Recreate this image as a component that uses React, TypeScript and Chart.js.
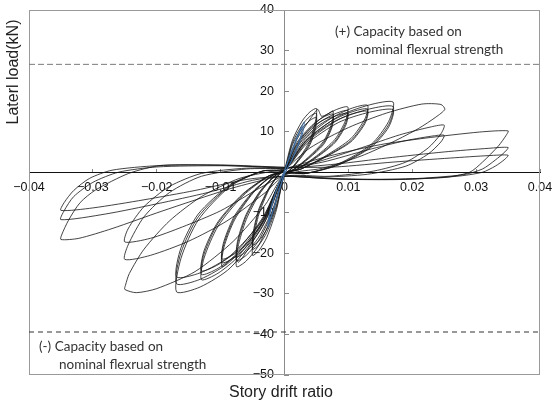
import React, { useEffect, useRef } from "react";
import { Chart, registerables } from "chart.js";

Chart.register(...registerables);

// Axis ticks and their printed labels
const xTickValues = [-0.04, -0.03, -0.02, -0.01, 0, 0.01, 0.02, 0.03, 0.04];
const xTickLabels = ["\u22120.04", "\u22120.03", "\u22120.02", "\u22120.01", "0", "0.01", "0.02", "0.03", "0.04"];
const yTickValues = [-50, -40, -30, -20, -10, 0, 10, 20, 30, 40];
const yTickLabels = ["\u221250", "\u221240", "\u221230", "\u221220", "\u221210", "", "10", "20", "30", "40"];

// Nominal flexural capacity levels (kN)
const capacityPositive = 26.6;
const capacityNegative = -39.4;

// Measured load–drift history, grouped by target drift level: [drift ratio, load kN]
const elasticCycles: number[][] = [
  [0, 0.3], [0.0008, 4], [0.0018, 8], [0.0026, 11], [0.0031, 12.4], [0.0029, 10], [0.002, 6], [0.001, 2.5], [0, -0.5],
  [-0.0007, -4], [-0.0015, -8], [-0.0022, -11.5], [-0.0026, -13.5], [-0.0024, -10.5], [-0.0016, -6], [-0.0008, -2.5], [0, 0.4],
  [0.0008, 3.6], [0.0017, 7.2], [0.0024, 10], [0.0028, 11.3], [0.0026, 9.2], [0.0018, 5.5], [0.0009, 2.2], [0, -0.4],
  [-0.0007, -3.7], [-0.0014, -7.4], [-0.002, -10.6], [-0.0024, -12.3], [-0.0022, -9.6], [-0.0015, -5.5], [-0.0007, -2.2], [0, 0.3],
];

const drift005: number[][] = [
  [0, 0.5],
  [0.00125, 7.9], [0.00275, 12.6], [0.004, 14.9], [0.005, 15.7], [0.00485, 12.6], [0.004, 7.9], [0.0025, 3.9], [0.001, 0.8], [0, -0.5],
  [-0.00125, -9.2], [-0.00275, -16], [-0.004, -19.3], [-0.005, -20.5], [-0.00485, -16.4], [-0.004, -10.3], [-0.0025, -4.5], [-0.001, -0.8], [0, 0.5],
  [0.00125, 7.3], [0.00275, 11.6], [0.004, 13.8], [0.005, 14.5], [0.00485, 11.6], [0.004, 7.3], [0.0025, 3.6], [0.001, 0.7], [0, -0.5],
  [-0.00125, -8.6], [-0.00275, -14.8], [-0.004, -17.9], [-0.005, -19], [-0.00485, -15.2], [-0.004, -9.5], [-0.0025, -4.2], [-0.001, -0.8], [0, 0.5],
  [0.00125, 6.8], [0.00275, 10.8], [0.004, 12.8], [0.005, 13.5], [0.00485, 10.8], [0.004, 6.8], [0.0025, 3.4], [0.001, 0.7], [0, -0.5],
  [-0.00125, -8.1], [-0.00275, -14], [-0.004, -16.9], [-0.005, -18], [-0.00485, -14.4], [-0.004, -9], [-0.0025, -4], [-0.001, -0.7], [0, 0.5],
];

const drift0075: number[][] = [
  [0, 0.5],
  [0.0019, 8], [0.0042, 13.5], [0.0052, 15.5], [0.0058, 13.8], [0.0068, 14.4], [0.0076, 15.1], [0.0074, 12.1], [0.0061, 7.6], [0.0038, 3.8], [0.0015, 0.8], [0, -0.5],
  [-0.0019, -10.5], [-0.0041, -18.2], [-0.006, -21.9], [-0.0075, -23.3], [-0.0073, -18.6], [-0.006, -11.7], [-0.0038, -5.1], [-0.0015, -0.9], [0, 0.5],
  [0.0019, 7.2], [0.0042, 11.4], [0.0061, 13.6], [0.0076, 14.3], [0.0074, 11.4], [0.0061, 7.2], [0.0038, 3.6], [0.0015, 0.7], [0, -0.5],
  [-0.0019, -9.8], [-0.0041, -17], [-0.006, -20.5], [-0.0075, -21.8], [-0.0073, -17.4], [-0.006, -10.9], [-0.0038, -4.8], [-0.0015, -0.9], [0, 0.5],
  [0.0019, 6.8], [0.0042, 10.9], [0.0061, 12.9], [0.0076, 13.6], [0.0074, 10.9], [0.0061, 6.8], [0.0038, 3.4], [0.0015, 0.7], [0, -0.5],
  [-0.0019, -9.4], [-0.0041, -16.2], [-0.006, -19.6], [-0.0075, -20.8], [-0.0073, -16.6], [-0.006, -10.4], [-0.0038, -4.6], [-0.0015, -0.8], [0, 0.5],
];

const drift010: number[][] = [
  [0, 0.5],
  [0.0025, 8.1], [0.0054, 12.9], [0.0079, 15.3], [0.0099, 16.1], [0.0096, 12.9], [0.0079, 8.1], [0.005, 4], [0.002, 0.8], [0, -0.5],
  [-0.0025, -10.5], [-0.0054, -18.2], [-0.0072, -22.2], [-0.0077, -20.8], [-0.0086, -21.8], [-0.0098, -23.3], [-0.0095, -18.6], [-0.0078, -11.7], [-0.0049, -5.1], [-0.002, -0.9], [0, 0.5],
  [0.0025, 7.6], [0.0054, 12.2], [0.0079, 14.4], [0.0099, 15.2], [0.0096, 12.2], [0.0079, 7.6], [0.005, 3.8], [0.002, 0.8], [0, -0.5],
  [-0.0025, -10], [-0.0054, -17.4], [-0.0078, -21], [-0.0098, -22.3], [-0.0095, -17.8], [-0.0078, -11.2], [-0.0049, -4.9], [-0.002, -0.9], [0, 0.5],
  [0.0025, 7.3], [0.0054, 11.6], [0.0079, 13.8], [0.0099, 14.5], [0.0096, 11.6], [0.0079, 7.3], [0.005, 3.6], [0.002, 0.7], [0, -0.5],
  [-0.0025, -9.6], [-0.0054, -16.7], [-0.0078, -20.1], [-0.0098, -21.4], [-0.0095, -17.1], [-0.0078, -10.7], [-0.0049, -4.7], [-0.002, -0.9], [0, 0.5],
];

const drift0125: number[][] = [
  [0, 0.5],
  [0.0033, 8.3], [0.0072, 13.2], [0.0104, 15.7], [0.013, 16.5], [0.0126, 13.2], [0.0104, 8.3], [0.0065, 4.1], [0.0026, 0.8], [0, -0.5],
  [-0.0033, -11.9], [-0.0072, -20.7], [-0.0104, -24.9], [-0.013, -26.5], [-0.0126, -21.2], [-0.0104, -13.3], [-0.0065, -5.8], [-0.0026, -1.1], [0, 0.5],
  [0.0033, 7.8], [0.0072, 12.5], [0.0104, 14.8], [0.013, 15.6], [0.0126, 12.5], [0.0104, 7.8], [0.0065, 3.9], [0.0026, 0.8], [0, -0.5],
  [-0.0033, -11.3], [-0.0072, -19.7], [-0.0104, -23.7], [-0.013, -25.2], [-0.0126, -20.2], [-0.0104, -12.6], [-0.0065, -5.5], [-0.0026, -1], [0, 0.5],
  [0.0033, 7.5], [0.0072, 12], [0.0104, 14.3], [0.013, 15], [0.0126, 12], [0.0104, 7.5], [0.0065, 3.8], [0.0026, 0.8], [0, -0.5],
  [-0.0033, -10.9], [-0.0072, -19], [-0.0104, -22.8], [-0.013, -24.3], [-0.0126, -19.4], [-0.0104, -12.2], [-0.0065, -5.3], [-0.0026, -1], [0, 0.5],
];

const drift017: number[][] = [
  [0, 0.5],
  [0.0034, 7.8], [0.0085, 13.8], [0.0133, 16.6], [0.017, 17.3], [0.0163, 12.5], [0.0136, 6.9], [0.0085, 2.1], [0.0034, -0.3], [0, -0.6],
  [-0.0034, -13.3], [-0.0085, -23.6], [-0.0132, -28.3], [-0.0169, -29.5], [-0.0162, -21.2], [-0.0135, -11.8], [-0.0085, -3.5], [-0.0034, 0.3], [0, 0.6],
  [0.0034, 7.3], [0.0085, 13], [0.0133, 15.6], [0.017, 16.2], [0.0163, 11.7], [0.0136, 6.5], [0.0085, 1.9], [0.0034, -0.3], [0, -0.6],
  [-0.0034, -12.4], [-0.0085, -22], [-0.0132, -26.4], [-0.0169, -27.5], [-0.0162, -19.8], [-0.0135, -11], [-0.0085, -3.3], [-0.0034, 0.3], [0, 0.6],
  [0.0034, 6.9], [0.0085, 12.3], [0.0133, 14.8], [0.017, 15.4], [0.0163, 11.1], [0.0136, 6.2], [0.0085, 1.8], [0.0034, -0.3], [0, -0.6],
  [-0.0034, -11.6], [-0.0085, -20.6], [-0.0132, -24.8], [-0.0169, -25.8], [-0.0162, -18.6], [-0.0135, -10.3], [-0.0085, -3.1], [-0.0034, 0.3], [0, 0.6],
];

const drift025: number[][] = [
  [0, 0.5], [0.004, 6], [0.01, 11], [0.016, 14.6], [0.0215, 16.8], [0.0245, 16.7], [0.0251, 15.5], [0.0237, 13.6], [0.021, 10.8], [0.017, 7.5], [0.012, 4], [0.006, 1], [0, -0.8],
  [-0.003, -8], [-0.008, -17], [-0.014, -24.5], [-0.02, -28.7], [-0.0232, -29.7], [-0.025, -28.9], [-0.0249, -27.9], [-0.0243, -25], [-0.022, -19], [-0.018, -12], [-0.013, -6], [-0.007, -1.5], [0, 0.8],
  [0.005, 2.5], [0.012, 6], [0.018, 9.2], [0.023, 11.2], [0.025, 11.6], [0.0245, 9.5], [0.0225, 6], [0.019, 2.5], [0.014, 0.3], [0.007, -1], [0, -1],
  [-0.003, -5], [-0.009, -12], [-0.015, -17], [-0.021, -20.5], [-0.025, -21.5], [-0.0245, -18], [-0.022, -11], [-0.018, -5], [-0.013, -1], [-0.006, 0.8], [0, 1],
  [0.006, 2.5], [0.013, 5.5], [0.019, 7.8], [0.0235, 9], [0.025, 9.1], [0.0245, 7.5], [0.0225, 4.5], [0.019, 1.5], [0.013, -0.5], [0.006, -1.2], [0, -1],
  [-0.004, -4], [-0.01, -9.5], [-0.016, -13.5], [-0.021, -16.3], [-0.025, -17.2], [-0.0245, -14], [-0.022, -8.5], [-0.018, -3.5], [-0.013, -0.3], [-0.006, 1], [0, 1],
];

const drift035: number[][] = [
  [0, 0.8], [0.007, 4], [0.015, 6.8], [0.022, 8.4], [0.0305, 9.9], [0.035, 10.2], [0.0347, 9.1], [0.0335, 6.5], [0.031, 2.5], [0.029, 0], [0.025, -1.3], [0.015, -1.8], [0.006, -1.5], [0, -1],
  [-0.003, -1.8], [-0.0088, -4.2], [-0.0192, -9.6], [-0.027, -13.9], [-0.0322, -16.3], [-0.035, -16.6], [-0.0349, -15.5], [-0.0338, -11.8], [-0.032, -7.5], [-0.0296, -4.4], [-0.0244, -0.3], [-0.0192, 1.7], [-0.01, 1.7], [-0.0036, 1.3], [0, 1],
  [0.008, 2], [0.016, 3.5], [0.025, 5], [0.032, 5.9], [0.035, 6.1], [0.0345, 5], [0.033, 3], [0.031, 0.8], [0.028, -0.6], [0.02, -1.6], [0.01, -1.7], [0, -1],
  [-0.005, -2], [-0.012, -5], [-0.02, -7.8], [-0.028, -10.3], [-0.035, -11.7], [-0.0345, -9.5], [-0.033, -6], [-0.03, -2.5], [-0.026, 0], [-0.02, 1.3], [-0.01, 1.6], [0, 1.2],
  [0.008, 1.3], [0.017, 2.5], [0.026, 3.5], [0.032, 4.1], [0.035, 4.2], [0.0345, 3.2], [0.033, 1.5], [0.031, 0], [0.027, -1], [0.018, -1.8], [0.008, -1.7], [0, -1],
  [-0.006, -1.8], [-0.014, -4.5], [-0.022, -6.8], [-0.03, -8.8], [-0.035, -9.4], [-0.0345, -7.5], [-0.033, -4.5], [-0.0305, -1.5], [-0.027, 0.5], [-0.02, 1.6], [-0.01, 1.8], [0, 1.2],
];

const inelasticGroups = [drift005, drift0075, drift010, drift0125, drift017, drift025, drift035];

const toPoints = (rows: number[][]) => rows.map(([x, y]) => ({ x, y }));

const TICK_FONT = '"Liberation Sans", Arial, sans-serif';
const NOTE_FONT = 'Lato, "Liberation Sans", sans-serif';

// Axes sit inside the plotting area, so they should claim no layout room
const claimNoSpace = (scale: any) => {
  if (scale.isHorizontal()) scale.height = 0;
  else scale.width = 0;
  scale.paddingTop = 0;
  scale.paddingBottom = 0;
  scale.paddingLeft = 0;
  scale.paddingRight = 0;
};

// Frame around the plotting area
const frameBox = {
  id: "frameBox",
  beforeDatasetsDraw(chart: any) {
    const { ctx, chartArea: a } = chart;
    ctx.save();
    ctx.strokeStyle = "#9a9a9a";
    ctx.lineWidth = 1;
    ctx.strokeRect(a.left + 0.5, a.top + 0.5, a.right - a.left - 1, a.bottom - a.top - 1);
    ctx.restore();
  },
};

// Axis titles and capacity notes
const textLayer = {
  id: "textLayer",
  afterDraw(chart: any) {
    const { ctx, chartArea: a } = chart;
    ctx.save();
    ctx.fillStyle = "#222";
    ctx.font = `16px ${TICK_FONT}`;
    ctx.textAlign = "center";
    ctx.textBaseline = "middle";
    ctx.fillText("Story drift ratio", 281, 393);
    ctx.translate(14, 72);
    ctx.rotate(-Math.PI / 2);
    ctx.fillText("Laterl load(kN)", 0, 0);
    ctx.restore();

    ctx.save();
    ctx.fillStyle = "#333";
    ctx.font = `13.5px ${NOTE_FONT}`;
    ctx.textAlign = "left";
    ctx.textBaseline = "middle";
    ctx.fillText("(+) Capacity based on", a.left + 306, a.top + 22);
    ctx.fillText("nominal flexrual strength", a.left + 327, a.top + 40);
    ctx.fillText("(-) Capacity based on", a.left + 10, a.top + 337);
    ctx.fillText("nominal flexrual strength", a.left + 30, a.top + 355);
    ctx.restore();
  },
};

export default function App() {
  const canvasRef = useRef<HTMLCanvasElement | null>(null);

  useEffect(() => {
    if (!canvasRef.current) return;

    const loopSets = inelasticGroups.map((rows) => ({
      data: toPoints(rows),
      borderColor: "#141414",
      borderWidth: 0.8,
      tension: 0.25,
    }));

    const chart = new Chart(canvasRef.current, {
      type: "scatter",
      data: {
        datasets: [
          {
            data: toPoints(elasticCycles),
            borderColor: "#3c6a9e",
            borderWidth: 1,
            tension: 0.25,
          },
          ...loopSets,
          {
            data: [
              { x: xTickValues[0], y: capacityPositive },
              { x: xTickValues[xTickValues.length - 1], y: capacityPositive },
            ],
            borderColor: "#7a7a7a",
            borderWidth: 1,
            borderDash: [6, 3],
          },
          {
            data: [
              { x: xTickValues[0], y: capacityNegative },
              { x: xTickValues[xTickValues.length - 1], y: capacityNegative },
            ],
            borderColor: "#333",
            borderWidth: 1,
            borderDash: [5, 4],
          },
        ] as any,
      },
      options: {
        animation: false,
        responsive: false,
        events: [],
        layout: { padding: { left: 29, right: 12, top: 10, bottom: 32 } },
        datasets: {
          scatter: { showLine: true, pointRadius: 0, fill: false },
        } as any,
        plugins: {
          legend: { display: false },
          tooltip: { enabled: false },
        },
        scales: {
          x: {
            type: "linear",
            min: xTickValues[0],
            max: xTickValues[xTickValues.length - 1],
            position: { y: 0 } as any,
            afterBuildTicks: (scale: any) => {
              scale.ticks = xTickValues.map((value) => ({ value }));
            },
            afterFit: claimNoSpace,
            grid: {
              display: true,
              drawOnChartArea: false,
              drawTicks: true,
              tickLength: -4,
              color: "#8a8a8a",
            },
            border: { display: true, color: "#111", width: 1 },
            ticks: {
              autoSkip: false,
              maxRotation: 0,
              padding: 12,
              color: "#111",
              font: { family: TICK_FONT, size: 12.5 },
              callback: (_v: any, i: number) => xTickLabels[i],
            },
          },
          y: {
            type: "linear",
            min: yTickValues[0],
            max: yTickValues[yTickValues.length - 1],
            position: "center",
            afterBuildTicks: (scale: any) => {
              scale.ticks = yTickValues.map((value) => ({ value }));
            },
            afterFit: claimNoSpace,
            grid: {
              display: true,
              drawOnChartArea: false,
              drawTicks: true,
              tickLength: -5,
              color: "#8a8a8a",
            },
            border: { display: true, color: "#8a8a8a", width: 1 },
            ticks: {
              autoSkip: false,
              padding: 15.5,
              color: "#111",
              font: { family: TICK_FONT, size: 12.5 },
              callback: (_v: any, i: number) => yTickLabels[i],
            },
          },
        },
      },
      plugins: [frameBox, textLayer],
    });

    return () => chart.destroy();
  }, []);

  return (
    <div style={{ position: "fixed", left: 0, top: 0, width: 552, height: 407, background: "#fff" }}>
      <canvas ref={canvasRef} width={552} height={407} />
    </div>
  );
}
